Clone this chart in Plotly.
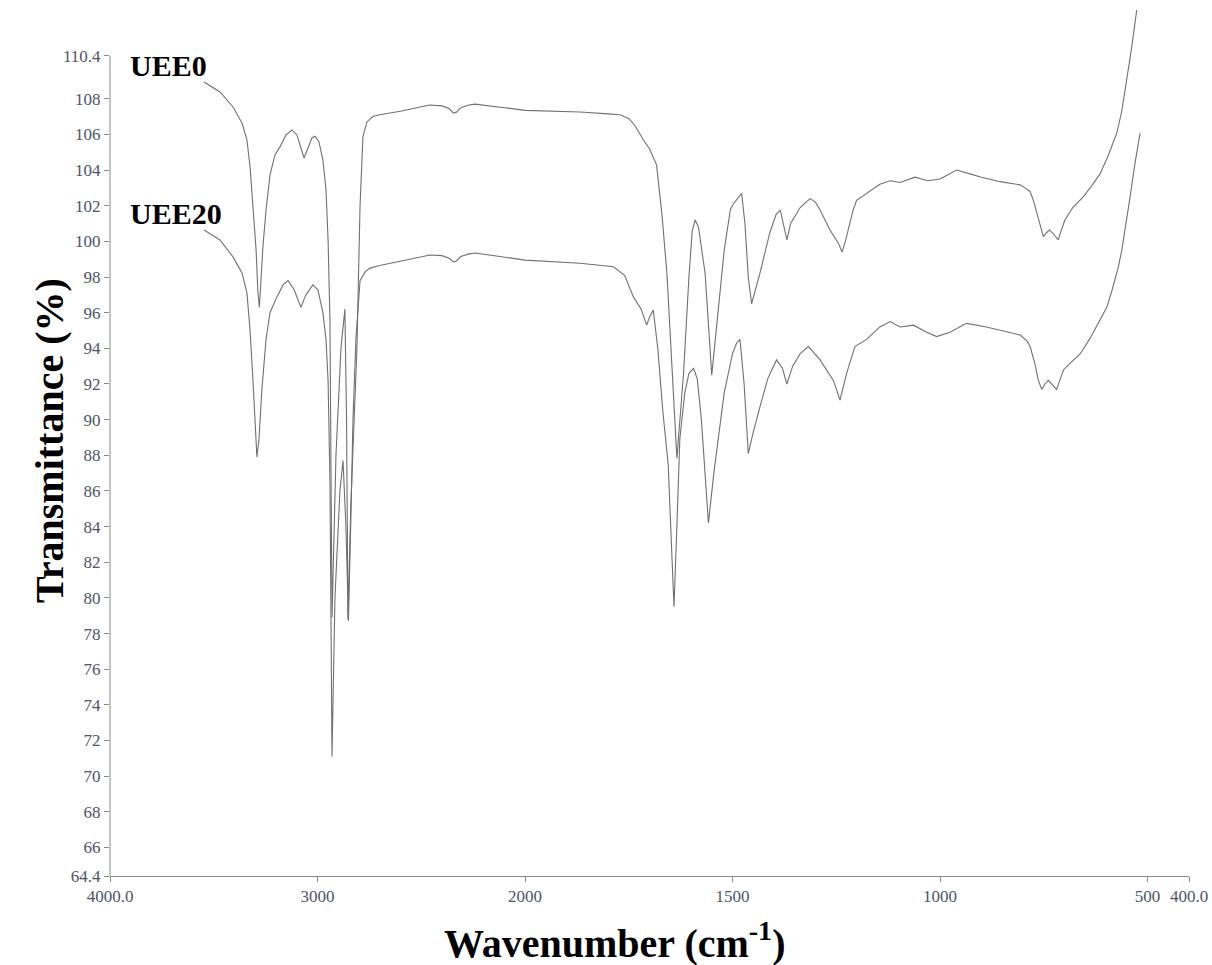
import plotly.graph_objects as go

# ---------------- data ----------------
wn_uee0 = [3547, 3470, 3407, 3364, 3340, 3325, 3311, 3296, 3287, 3280, 3263, 3248, 3229, 3205,
           3181, 3152, 3123, 3099, 3080, 3065, 3046, 3027, 3012, 2993, 2974, 2959, 2949, 2940,
           2930, 2911, 2887, 2868, 2860, 2853, 2840, 2825, 2810, 2795, 2781, 2762, 2733, 2700,
           2600, 2500, 2458, 2400, 2365, 2345, 2330, 2310, 2270, 2241, 2180, 2100, 2000, 1867,
           1800, 1771, 1750, 1735, 1715, 1700, 1683, 1670, 1658, 1646, 1634, 1625, 1618, 1605,
           1597, 1590, 1582, 1574, 1566, 1550, 1535, 1520, 1505, 1498, 1488, 1478, 1470, 1462,
           1454, 1444, 1434, 1410, 1395, 1385, 1377, 1369, 1360, 1337, 1313, 1300, 1289, 1265,
           1245, 1236, 1228, 1221, 1210, 1201, 1177, 1145, 1120, 1096, 1060, 1030, 1000, 960,
           930, 900, 855, 820, 807, 795, 783, 775, 767, 758, 751, 743, 736, 726, 715, 708, 699,
           680, 655, 635, 614, 595, 574, 562, 550, 538, 526]
t_uee0 = [108.94, 108.38, 107.54, 106.64, 105.69, 104.17, 101.93, 99.52, 97.11, 96.3, 99.7, 101.76, 103.73, 104.85,
          105.3, 105.97, 106.25, 105.97, 105.24, 104.68, 105.24, 105.8, 105.9, 105.58, 104.57, 102.9, 100.08, 95.6,
          78.9, 88.0, 94.0, 96.2, 90.0, 78.8, 85.0, 90.0, 94.0, 102.0, 105.86, 106.7, 107.0, 107.1,
          107.3, 107.55, 107.65, 107.6, 107.45, 107.2, 107.25, 107.5, 107.65, 107.7, 107.6, 107.5, 107.35, 107.26,
          107.15, 107.1, 106.9, 106.5, 105.7, 105.2, 104.29, 101.5, 98.2, 92.6, 87.84, 90.5, 92.6, 98.0,
          100.6, 101.2, 100.8, 99.5, 98.2, 92.5, 96.0, 99.5, 101.8, 102.1, 102.4, 102.7, 101.0, 98.0,
          96.5, 97.3, 98.2, 100.5, 101.5, 101.76, 101.0, 100.08, 101.0, 101.9, 102.4, 102.2, 101.76, 100.64,
          99.9, 99.4, 100.0, 100.64, 101.7, 102.3, 102.7, 103.2, 103.4, 103.3, 103.6, 103.4, 103.5, 104.0,
          103.8, 103.6, 103.35, 103.2, 103.17, 103.0, 102.8, 102.3, 101.58, 100.8, 100.27, 100.5, 100.64, 100.4, 100.08, 100.6, 101.2,
          101.9, 102.5, 103.1, 103.8, 104.8, 106.07, 107.3, 109.05, 110.9, 112.98]

wn_uee20 = [3547, 3470, 3407, 3364, 3340, 3325, 3311, 3301, 3292, 3282, 3268, 3248, 3229, 3195,
            3166, 3142, 3113, 3080, 3056, 3022, 2998, 2974, 2959, 2949, 2940, 2930, 2916, 2892,
            2877, 2863, 2851, 2840, 2829, 2815, 2795, 2770, 2747, 2700, 2617, 2500, 2458, 2400,
            2365, 2345, 2330, 2310, 2270, 2240, 2180, 2100, 2000, 1867, 1787, 1760, 1739, 1720,
            1707, 1699, 1691, 1680, 1668, 1655, 1641, 1634, 1627, 1615, 1605, 1594, 1585, 1575,
            1558, 1545, 1520, 1500, 1490, 1482, 1472, 1462, 1450, 1434, 1415, 1394, 1380, 1369,
            1355, 1337, 1317, 1289, 1257, 1241, 1225, 1205, 1177, 1145, 1120, 1096, 1064, 1032,
            1008, 976, 936, 888, 850, 807, 790, 783, 772, 763, 755, 747, 739, 730, 719, 710, 702,
            685, 662, 640, 614, 598, 585, 570, 562, 554, 542, 530, 518]
t_uee20 = [100.64, 100.08, 99.13, 98.23, 97.11, 95.0, 92.2, 90.0, 87.9, 88.9, 91.7, 94.5, 96.0, 96.9,
           97.56, 97.8, 97.3, 96.3, 97.0, 97.56, 97.28, 96.0, 94.5, 92.2, 86.6, 71.1, 80.0, 86.0,
           87.7, 84.0, 78.7, 84.0, 90.0, 94.5, 97.8, 98.3, 98.5, 98.65, 98.85, 99.1, 99.24, 99.2,
           99.05, 98.85, 98.9, 99.15, 99.3, 99.35, 99.25, 99.1, 98.95, 98.77, 98.58, 98.1, 96.9, 96.2,
           95.3, 95.8, 96.15, 94.0, 90.5, 87.5, 79.5, 84.0, 88.9, 91.5, 92.6, 92.88, 92.3, 90.0,
           84.2, 87.0, 91.5, 93.7, 94.3, 94.5, 92.0, 88.1, 89.3, 90.7, 92.3, 93.35, 92.9, 92.0,
           93.0, 93.7, 94.1, 93.35, 92.2, 91.1, 92.6, 94.1, 94.5, 95.2, 95.5, 95.2, 95.3, 94.9,
           94.66, 94.9, 95.4, 95.2, 95.0, 94.75, 94.4, 94.1, 93.2, 92.2, 91.7, 92.0, 92.2, 92.0, 91.7, 92.3, 92.8,
           93.2, 93.7, 94.5, 95.6, 96.3, 97.3, 98.6, 99.5, 100.64, 102.5, 104.4, 106.07]

x_tick_wn = [4000, 3000, 2000, 1500, 1000, 500, 400]
x_tick_text = ["4000.0", "3000", "2000", "1500", "1000", "500", "400.0"]
y_tick_vals = [64.4, 66, 68, 70, 72, 74, 76, 78, 80, 82, 84, 86, 88, 90, 92, 94, 96, 98,
               100, 102, 104, 106, 108, 110.4]
y_tick_text = ["64.4", "66", "68", "70", "72", "74", "76", "78", "80", "82", "84", "86", "88", "90",
               "92", "94", "96", "98", "100", "102", "104", "106", "108", "110.4"]


# FTIR-style abscissa: scale halves above 2000 cm-1
def to_axis(w):
    return w if w <= 2000 else 2000 + (w - 2000) / 2.0


line_col = "#707070"
tick_col = "#4d5466"
serif = "Liberation Serif, Times New Roman, serif"

fig = go.Figure()
fig.add_trace(go.Scatter(x=[to_axis(w) for w in wn_uee0], y=t_uee0, mode="lines",
                         line=dict(color=line_col, width=1.1), name="UEE0", showlegend=False))
fig.add_trace(go.Scatter(x=[to_axis(w) for w in wn_uee20], y=t_uee20, mode="lines",
                         line=dict(color=line_col, width=1.1), name="UEE20", showlegend=False))

fig.update_layout(
    width=1212, height=965,
    margin=dict(l=110, r=23, t=5, b=89),
    paper_bgcolor="white", plot_bgcolor="white",
    showlegend=False,
    xaxis=dict(range=[to_axis(4000), to_axis(400)],
               tickvals=[to_axis(w) for w in x_tick_wn], ticktext=x_tick_text,
               ticks="outside", ticklen=5, tickcolor="#888", tickwidth=1,
               showline=True, linecolor="#8a8a8a", linewidth=1,
               showgrid=False, zeroline=False,
               tickfont=dict(family=serif, size=17, color=tick_col)),
    yaxis=dict(range=[64.4, 113.26],
               tickvals=y_tick_vals, ticktext=y_tick_text,
               ticks="outside", ticklen=5, tickcolor="#888", tickwidth=1,
               showline=False, showgrid=False, zeroline=False,
               tickfont=dict(family=serif, size=17, color=tick_col)),
    shapes=[dict(type="line", xref="paper", x0=0, x1=0, yref="y", y0=64.4, y1=110.4,
                 line=dict(color="#8a8a8a", width=1))],
    annotations=[
        dict(text="<b>Transmittance (%)</b>", xref="paper", yref="paper",
             x=-0.0556, y=0.4995, textangle=-90, showarrow=False,
             font=dict(family=serif, size=40, color="black"), xanchor="center", yanchor="middle"),
        dict(text="<b>Wavenumber (cm<sup>-1</sup>)</b>", xref="paper", yref="paper",
             x=0.468, y=-0.0735, showarrow=False,
             font=dict(family=serif, size=40, color="black"), xanchor="center", yanchor="middle"),
        dict(text="<b>UEE0</b>", xref="paper", yref="paper", x=0.0167, y=0.931,
             showarrow=False, xanchor="left", yanchor="middle",
             font=dict(family=serif, size=30, color="black")),
        dict(text="<b>UEE20</b>", xref="paper", yref="paper", x=0.0167, y=0.761,
             showarrow=False, xanchor="left", yanchor="middle",
             font=dict(family=serif, size=30, color="black")),
    ],
)

fig.write_html("out.html")
